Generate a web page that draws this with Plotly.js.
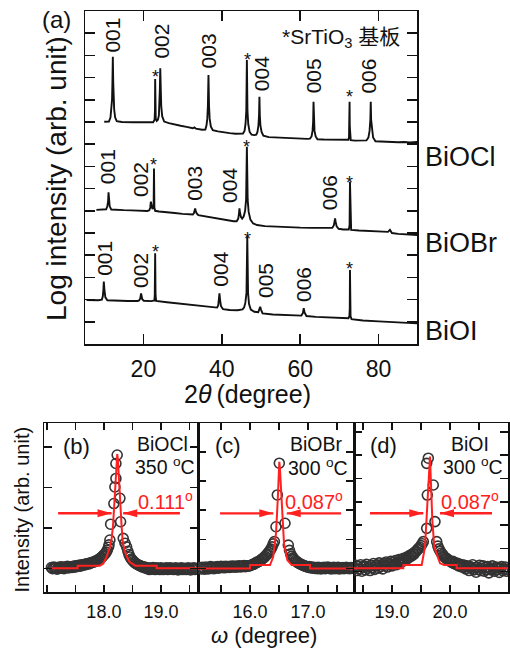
<!DOCTYPE html>
<html>
<head>
<meta charset="utf-8">
<script src="https://cdn.plot.ly/plotly-3.0.1.min.js"></script>
<style>
  html, body { margin: 0; padding: 0; background: #fff; }
  #chart { width: 510px; height: 650px; }
</style>
</head>
<body>
<div id="chart"></div>
<script>
// ---------- (a) XRD patterns: 2θ (deg) and log intensity (stacked offsets) ----------
const thetaOCl = [10.0,10.6,11.2,11.6,11.85,12.0,12.1,12.2,12.3,12.4,12.55,12.8,13.2,14.5,16.0,17.5,19.0,20.5,21.8,22.5,22.85,22.95,23.0,23.05,23.15,23.4,23.7,23.95,24.1,24.2,24.3,24.4,24.55,24.8,25.3,26.5,28.0,29.5,31.0,32.6,33.0,33.4,35.0,35.8,36.1,36.3,36.45,36.6,36.75,36.9,37.2,37.7,39.0,40.5,42.0,43.5,44.8,45.4,45.8,46.05,46.25,46.4,46.55,46.75,47.1,47.6,48.3,48.8,49.1,49.35,49.5,49.6,49.7,49.85,50.15,50.6,52.0,54.0,56.0,58.0,60.0,61.8,62.5,62.9,63.15,63.3,63.4,63.5,63.65,63.95,64.4,66.0,68.0,70.0,71.8,72.3,72.45,72.55,72.6,72.65,72.75,72.9,74.0,75.5,76.9,77.4,77.7,77.9,78.0,78.1,78.3,78.6,79.2,80.5,82.0,83.5,85.0,86.5,88.0,89.9];
const logOCl   = [10.01,10.02,10.02,10.2,10.55,11.0,11.8,12.94,11.8,11.0,10.55,10.2,10.04,10.0,10.01,9.99,9.99,9.98,9.97,9.99,10.1,10.5,11.94,10.5,10.15,10.05,10.1,10.3,10.8,11.5,12.42,11.5,10.7,10.25,10.02,9.95,9.88,9.83,9.78,9.72,9.76,9.7,9.65,9.66,9.85,10.15,10.7,12.12,10.7,10.15,9.8,9.63,9.58,9.53,9.5,9.47,9.46,9.48,9.6,9.9,10.5,12.79,10.5,9.9,9.55,9.43,9.41,9.43,9.55,9.85,10.3,11.14,10.3,9.85,9.55,9.38,9.32,9.3,9.27,9.26,9.25,9.24,9.25,9.35,9.6,10.0,10.91,10.0,9.6,9.35,9.22,9.21,9.2,9.19,9.18,9.2,9.3,9.8,10.91,9.8,9.3,9.18,9.16,9.16,9.17,9.3,9.6,10.1,10.91,10.1,9.6,9.3,9.13,9.12,9.1,9.12,9.09,9.1,9.08,9.1];

const thetaOBr = [8.0,9.0,10.0,10.5,10.8,11.0,11.1,11.2,11.4,11.8,13.0,15.0,17.0,19.0,21.0,21.5,21.75,21.9,22.05,22.3,22.6,22.7,22.8,23.0,24.0,26.0,28.0,30.0,32.0,32.6,32.9,33.1,33.2,33.35,33.6,34.0,35.0,37.0,39.0,41.0,43.0,43.8,44.2,44.4,44.5,44.65,44.9,45.2,45.6,45.95,46.2,46.4,46.6,46.85,47.3,48.0,49.0,51.0,54.0,57.0,60.0,63.0,66.0,68.2,68.6,68.8,68.9,69.05,69.3,69.8,71.0,72.4,72.6,72.7,72.8,73.0,75.0,78.0,81.0,82.4,82.9,83.4,85.0,87.0,89.9];
const logOBr   = [6.04,6.05,6.04,6.07,6.2,6.45,6.83,6.45,6.2,6.06,6.04,6.03,6.02,6.0,5.99,6.02,6.15,6.41,6.2,6.08,6.15,7.9,6.15,6.0,5.97,5.95,5.9,5.86,5.83,5.83,5.9,6.0,6.11,6.0,5.88,5.8,5.77,5.71,5.64,5.58,5.53,5.53,5.65,5.9,6.11,5.9,5.72,5.65,5.75,6.0,6.5,8.89,6.5,5.95,5.6,5.43,5.36,5.31,5.28,5.26,5.24,5.23,5.22,5.23,5.35,5.5,5.66,5.5,5.3,5.19,5.16,5.16,5.35,7.31,5.35,5.14,5.11,5.08,5.05,5.05,5.14,5.0,4.96,4.93,4.91];

const thetaOI = [5.5,7.0,8.5,9.4,9.65,9.8,9.9,10.05,10.3,10.8,13.0,16.0,18.5,18.9,19.2,19.35,19.4,19.5,19.7,20.1,22.0,22.8,22.9,23.0,23.1,23.25,26.0,29.0,32.0,35.0,37.0,38.5,38.8,39.1,39.3,39.4,39.55,39.8,40.3,42.0,44.0,45.3,45.7,46.0,46.3,46.5,46.7,46.95,47.4,48.3,49.3,49.6,49.8,50.0,50.4,53.0,56.0,59.0,60.3,60.7,60.9,61.1,61.6,64.0,67.0,70.0,72.3,72.55,72.65,72.7,72.75,72.85,73.1,76.0,80.0,84.0,87.0,89.9];
const logOI   = [1.98,1.97,1.97,2.0,2.15,2.45,2.81,2.45,2.1,1.97,1.95,1.94,1.94,1.96,2.05,2.2,2.28,2.2,2.02,1.95,1.93,1.96,2.2,4.09,2.2,1.94,1.88,1.82,1.76,1.7,1.65,1.62,1.64,1.75,2.0,2.28,2.0,1.7,1.57,1.53,1.52,1.56,1.65,1.85,2.3,4.85,2.3,1.8,1.55,1.45,1.43,1.55,1.68,1.55,1.38,1.33,1.3,1.28,1.28,1.4,1.61,1.42,1.26,1.22,1.2,1.17,1.16,1.25,1.6,3.33,1.6,1.25,1.12,1.06,1.02,0.98,0.95,0.93];

const sampleNames = ['BiOCl', 'BiOBr', 'BiOI'];
const substrateNote = '*SrTiO<sub>3</sub> 基板';
const tickA = [20, 40, 60, 80];

// ---------- (b)-(d) rocking curves: [ω (deg), intensity] ----------
const rockOCl = [
  [17.08,0.02],[17.10,-0.01],[17.12,0.03],[17.14,0.00],[17.16,0.02],[17.18,-0.02],[17.20,0.01],[17.22,0.03],[17.24,0.00],[17.26,0.04],
  [17.28,0.01],[17.30,-0.01],[17.32,0.03],[17.34,0.02],[17.36,0.05],[17.38,0.01],[17.40,0.03],[17.42,0.04],[17.44,0.02],[17.46,0.05],
  [17.48,0.03],[17.50,0.06],[17.52,0.04],[17.54,0.07],[17.56,0.05],[17.58,0.08],[17.60,0.06],[17.62,0.09],[17.64,0.08],[17.66,0.10],
  [17.68,0.09],[17.70,0.11],[17.72,0.12],[17.74,0.11],[17.76,0.13],[17.78,0.14],[17.80,0.15],[17.82,0.15],[17.84,0.17],[17.86,0.18],
  [17.88,0.20],[17.90,0.21],[17.92,0.23],[17.94,0.25],[17.96,0.27],[17.98,0.30],[18.00,0.33],[18.02,0.36],[18.04,0.40],[18.06,0.45],
  [18.08,0.52],[18.09,0.58],[18.105,0.70],[18.118,1.09],[18.175,1.60],[18.193,2.01],[18.211,2.22],[18.211,2.59],[18.233,2.80],
  [18.281,1.73],[18.293,1.15],[18.339,0.74],[18.37,0.62],[18.398,0.53],[18.42,0.42],[18.44,0.34],[18.46,0.28],[18.48,0.23],[18.50,0.20],
  [18.52,0.17],[18.54,0.14],[18.56,0.12],[18.58,0.10],[18.60,0.09],[18.62,0.07],[18.64,0.06],[18.66,0.05],[18.68,0.03],[18.70,0.04],
  [18.72,0.01],[18.74,0.02],[18.76,-0.01],[18.78,0.01],[18.80,-0.03],[18.82,0.00],[18.84,-0.02],[18.86,0.02],[18.88,-0.01],[18.90,-0.03],
  [18.92,0.01],[18.94,-0.02],[18.96,0.00],[18.98,-0.03],[19.00,0.01],[19.02,-0.01],[19.04,-0.03],[19.06,0.00],[19.08,-0.02],[19.10,0.01],
  [19.12,-0.03],[19.14,-0.01],[19.16,0.01],[19.18,-0.02],[19.20,0.00],[19.22,-0.03],[19.24,-0.01],[19.26,0.01],[19.28,-0.02],[19.30,-0.04],
  [19.32,0.00],[19.34,-0.02],[19.36,0.01],[19.38,-0.03],[19.40,-0.01],[19.42,0.00],[19.44,-0.03],[19.46,-0.01],[19.48,0.01],[19.50,-0.02],
  [19.52,-0.04],[19.54,0.00],[19.56,-0.02],[19.58,0.01],[19.60,-0.03],[19.62,-0.01],[19.64,0.00]
];
const fitOCl = [
  [17.08,0.0],[17.54,0.0],[17.54,0.065],[17.93,0.065],[17.99,0.12],[18.05,0.29],[18.10,0.50],[18.135,0.72],[18.16,1.05],[18.175,1.44],
  [18.195,2.0],[18.21,2.35],[18.225,2.70],[18.234,2.82],[18.245,2.70],[18.257,2.35],[18.275,1.8],[18.292,1.44],[18.31,1.05],[18.328,0.70],
  [18.36,0.45],[18.40,0.29],[18.45,0.16],[18.49,0.12],[18.55,0.065],[18.925,0.065],[18.925,0.0],[19.65,0.0]
];

const rockOBr = [
  [15.14,0.03],[15.16,-0.02],[15.18,0.04],[15.20,0.00],[15.22,-0.03],[15.24,0.05],[15.26,0.01],[15.28,-0.02],[15.30,0.03],[15.32,0.06],
  [15.34,0.00],[15.36,0.04],[15.38,-0.01],[15.40,0.05],[15.42,0.02],[15.44,0.06],[15.46,0.01],[15.48,0.04],[15.50,0.07],[15.52,0.03],
  [15.54,0.06],[15.56,0.02],[15.58,0.07],[15.60,0.04],[15.62,0.06],[15.64,0.03],[15.66,0.07],[15.68,0.04],[15.70,0.08],[15.72,0.05],
  [15.74,0.07],[15.76,0.04],[15.78,0.08],[15.80,0.06],[15.82,0.09],[15.84,0.05],[15.86,0.08],[15.88,0.07],[15.90,0.10],[15.92,0.06],
  [15.94,0.09],[15.96,0.08],[15.98,0.08],[16.00,0.10],[16.02,0.11],[16.04,0.13],[16.06,0.14],[16.08,0.17],[16.10,0.19],[16.12,0.21],
  [16.14,0.23],[16.16,0.25],[16.18,0.28],[16.20,0.31],[16.22,0.34],[16.24,0.37],[16.26,0.41],[16.28,0.46],[16.30,0.50],[16.32,0.55],
  [16.34,0.60],[16.36,0.66],[16.38,0.74],[16.40,0.84],[16.42,0.92],[16.448,1.43],[16.471,2.52],[16.505,3.61],[16.603,1.55],[16.66,0.80],
  [16.68,0.62],[16.70,0.50],[16.72,0.42],[16.74,0.36],[16.76,0.31],[16.78,0.27],[16.80,0.24],[16.82,0.21],[16.84,0.18],[16.86,0.16],
  [16.88,0.14],[16.90,0.12],[16.92,0.10],[16.94,0.09],[16.96,0.07],[16.98,0.06],[17.00,0.04],[17.02,0.06],[17.04,0.02],[17.06,0.05],
  [17.08,0.01],[17.10,0.04],[17.12,0.00],[17.14,0.03],[17.16,-0.01],[17.18,0.04],[17.20,0.01],[17.22,-0.02],[17.24,0.03],[17.26,0.00],
  [17.28,0.04],[17.30,-0.01],[17.32,0.02],[17.34,0.05],[17.36,0.00],[17.38,0.03],[17.40,-0.02],[17.42,0.02],[17.44,0.04],[17.46,-0.01],
  [17.48,0.03],[17.50,0.00],[17.52,0.04],[17.54,-0.02],[17.56,0.02],[17.58,0.00],[17.60,0.03],[17.62,-0.01],[17.64,0.02],[17.66,0.04],
  [17.68,0.00],[17.70,0.02],[17.72,-0.01],[17.74,0.03],[17.76,0.01],[17.78,0.02]
];
const fitOBr = [
  [15.10,0.0],[16.00,0.0],[16.00,0.113],[16.345,0.113],[16.40,0.40],[16.448,1.2],[16.478,2.35],[16.50,3.49],[16.505,3.66],[16.515,3.45],
  [16.529,2.92],[16.552,1.77],[16.586,0.86],[16.643,0.29],[16.719,0.113],[17.034,0.113],[17.034,0.0],[17.79,0.0]
];

const rockOI = [
  [18.36,0.15],[18.38,0.28],[18.40,0.05],[18.42,0.22],[18.44,0.12],[18.46,0.30],[18.48,0.02],[18.50,0.18],[18.52,0.25],[18.54,0.08],
  [18.56,0.32],[18.58,0.15],[18.60,0.22],[18.62,0.05],[18.64,0.28],[18.66,0.18],[18.68,0.35],[18.70,0.10],[18.72,0.25],[18.74,0.30],
  [18.76,0.15],[18.78,0.38],[18.80,0.22],[18.82,0.30],[18.84,0.12],[18.86,0.35],[18.88,0.28],[18.90,0.42],[18.92,0.20],[18.94,0.36],
  [18.96,0.30],[18.98,0.45],[19.00,0.25],[19.02,0.40],[19.04,0.33],[19.06,0.48],[19.08,0.30],[19.10,0.42],[19.12,0.52],[19.14,0.38],
  [19.16,0.50],[19.18,0.44],[19.20,0.58],[19.22,0.48],[19.24,0.60],[19.26,0.55],[19.28,0.66],[19.30,0.62],[19.32,0.72],[19.34,0.68],
  [19.36,0.78],[19.38,0.75],[19.40,0.85],[19.42,0.88],[19.44,0.95],[19.46,1.00],[19.48,1.05],[19.50,1.12],[19.52,1.20],[19.54,1.29],
  [19.598,1.86],[19.609,3.29],[19.598,4.65],[19.626,4.87],[19.712,3.72],[19.741,2.15],[19.771,1.29],
  [19.79,1.10],[19.81,0.98],[19.83,0.88],[19.85,0.80],[19.87,0.74],[19.89,0.68],[19.91,0.62],[19.93,0.58],[19.95,0.55],[19.97,0.50],
  [19.99,0.47],[20.01,0.44],[20.03,0.40],[20.05,0.45],[20.07,0.35],[20.09,0.38],[20.11,0.30],[20.13,0.36],[20.15,0.25],[20.17,0.32],
  [20.19,0.22],[20.21,0.30],[20.23,0.18],[20.25,0.28],[20.27,0.12],[20.29,0.25],[20.31,0.20],[20.33,0.05],[20.35,0.22],[20.37,0.15],
  [20.39,0.30],[20.41,0.08],[20.43,0.18],[20.45,-0.02],[20.47,0.20],[20.49,0.10],[20.51,0.28],[20.53,0.05],[20.55,0.15],[20.57,0.25],
  [20.59,0.02],[20.61,0.18],[20.63,0.10],[20.65,0.22],[20.67,-0.05],[20.69,0.15],[20.71,0.08],[20.73,0.25],[20.75,0.12],[20.77,0.02],
  [20.79,0.20],[20.81,0.10],[20.83,0.18],[20.85,-0.03],[20.87,0.15],[20.89,0.22],[20.91,0.05],[20.93,0.12],[20.95,0.20],[20.97,0.02],
  [20.99,0.10]
];
const fitOI = [
  [18.34,0.146],[19.195,0.146],[19.195,0.29],[19.512,0.29],[19.569,1.07],[19.609,2.65],[19.638,4.22],[19.655,4.94],[19.672,3.79],
  [19.695,2.22],[19.729,1.07],[19.828,0.36],[19.90,0.29],[20.116,0.29],[20.116,0.146],[21.0,0.146]
];

const fwhmText = ['0.111<sup>o</sup>', '0.087<sup>o</sup>', '0.087<sup>o</sup>'];
const growthTemp = ['350 <sup>o</sup>C', '300 <sup>o</sup>C', '300 <sup>o</sup>C'];
const panelTags = ['(a)', '(b)', '(c)', '(d)'];
const tickValsB = [18.0, 19.0];
const tickTextB = ['18.0', '19.0'];
const tickValsC = [16.0, 17.0];
const tickTextC = ['16.0', '17.0'];
const tickValsD = [19.0, 20.0];
const tickTextD = ['19.0', '20.0'];

// ---------- drawing ----------
const W = 510, H = 650;
const FONT = '"Liberation Sans", Arial, "Noto Sans CJK SC", sans-serif';
const INK = '#111111';
const RED = '#ff2020';
const px2x = p => p / W;
const py2y = p => 1 - p / H;
const col = (pts, i) => pts.map(p => p[i]);

const xrdLine = (x, y) => ({ x, y, xaxis: 'x', yaxis: 'y', type: 'scatter', mode: 'lines',
  line: { color: INK, width: 1.9 }, hoverinfo: 'skip' });
const rockPts = (pts, n) => ({ x: col(pts, 0), y: col(pts, 1), xaxis: 'x' + n, yaxis: 'y' + n, type: 'scatter', mode: 'markers',
  marker: { symbol: 'circle-open', size: 10, color: '#333333', line: { width: 1.6, color: '#333333' } }, hoverinfo: 'skip' });
const rockFit = (pts, n) => ({ x: col(pts, 0), y: col(pts, 1), xaxis: 'x' + n, yaxis: 'y' + n, type: 'scatter', mode: 'lines',
  line: { color: RED, width: 2 }, hoverinfo: 'skip' });

const data = [
  xrdLine(thetaOCl, logOCl), xrdLine(thetaOBr, logOBr), xrdLine(thetaOI, logOI),
  rockPts(rockOCl, 2), rockFit(fitOCl, 2),
  rockPts(rockOBr, 3), rockFit(fitOBr, 3),
  rockPts(rockOI, 4), rockFit(fitOI, 4)
];

const frame = {
  showline: true, linecolor: INK, linewidth: 1.5, mirror: 'ticks', ticks: 'inside',
  tickcolor: INK, tickwidth: 1.5, showgrid: false, zeroline: false, fixedrange: true
};
// half-degree minor ticks on the rocking-curve ω axes
const halfStep = { ticks: 'inside', tickmode: 'linear', tick0: 0, dtick: 0.5, ticklen: 7, tickwidth: 1.5, tickcolor: INK, showgrid: false };
const bottomDom = [py2y(592), py2y(423)];

const layout = {
  width: W, height: H, margin: { l: 0, r: 0, t: 0, b: 0 },
  paper_bgcolor: '#fff', plot_bgcolor: 'rgba(0,0,0,0)', showlegend: false,
  font: { family: FONT, color: INK },
  xaxis: Object.assign({}, frame, { domain: [px2x(85), px2x(417)], range: [5.1, 89.8], anchor: 'y',
    tickmode: 'array', tickvals: tickA, ticklen: 10, tickfont: { size: 23 }, ticklabelstandoff: 4 }),
  yaxis: Object.assign({}, frame, { domain: [py2y(344), py2y(11)], range: [0, 15], anchor: 'x',
    tickmode: 'linear', tick0: 0, dtick: 1, ticklen: 10, showticklabels: false }),
  xaxis2: Object.assign({}, frame, { domain: [px2x(44), px2x(198)], range: [16.95, 19.65], anchor: 'y2',
    tickmode: 'array', tickvals: tickValsB, ticktext: tickTextB, ticklen: 7, tickfont: { size: 18 }, ticklabelstandoff: 3, minor: halfStep }),
  yaxis2: Object.assign({}, frame, { domain: bottomDom, range: [-0.585, 3.59], anchor: 'x2',
    tickmode: 'array', tickvals: [0, 1, 2, 3], ticklen: 8, showticklabels: false }),
  xaxis3: Object.assign({}, frame, { domain: [px2x(198), px2x(354)], range: [15.103, 17.793], anchor: 'y3',
    tickmode: 'array', tickvals: tickValsC, ticktext: tickTextC, ticklen: 7, tickfont: { size: 18 }, ticklabelstandoff: 3, minor: halfStep }),
  yaxis3: Object.assign({}, frame, { domain: bottomDom, range: [-0.81, 4.99], anchor: 'x3',
    tickmode: 'array', tickvals: [0, 1, 2, 3, 4], ticklen: 8, showticklabels: false }),
  xaxis4: Object.assign({}, frame, { domain: [px2x(354), px2x(508)], range: [18.345, 21.0], anchor: 'y4',
    tickmode: 'array', tickvals: tickValsD, ticktext: tickTextD, ticklen: 7, tickfont: { size: 18 }, ticklabelstandoff: 3, minor: halfStep }),
  yaxis4: Object.assign({}, frame, { domain: bottomDom, range: [-0.87, 6.38], anchor: 'x4',
    tickmode: 'array', tickvals: [0, 1, 2, 3, 4, 5, 6], ticklen: 8, showticklabels: false }),
  annotations: [],
  shapes: []
};

const A = layout.annotations;
// free text in paper space, placed by pixel position
const note = (text, px, py, size, extra) => A.push(Object.assign({
  text, x: px2x(px), y: py2y(py), xref: 'paper', yref: 'paper', showarrow: false,
  xanchor: 'center', yanchor: 'middle', font: { size, color: INK, family: FONT }
}, extra || {}));
// text pinned to the XRD axes (2θ, log I)
const onA = (text, x, y, size, angle) => A.push({
  text, x, y, xref: 'x', yref: 'y', showarrow: false, xanchor: 'center', yanchor: 'middle',
  textangle: angle || 0, font: { size, color: INK, family: FONT }
});

// panel (a) titles and labels
note(panelTags[0], 56.5, 19, 24);
note('Log intensity (arb. unit)', 57, 179, 28, { textangle: -90 });
note('2<i>θ</i>\u2009(degree)', 247, 394, 25);
note(substrateNote, 402, 38, 21, { xanchor: 'right' });
note(sampleNames[0], 423, 157, 27, { xanchor: 'left' });
note(sampleNames[1], 423, 243, 27, { xanchor: 'left' });
note(sampleNames[2], 423, 331, 27, { xanchor: 'left' });

// reflection indices
[['001', 12.2, 13.93], ['002', 24.7, 13.66], ['003', 36.6, 13.2], ['004', 50.2, 12.19], ['005', 63.4, 12.08], ['006', 77.5, 12.08],
 ['001', 10.9, 8.0], ['002', 19.2, 7.4], ['003', 33.2, 7.22], ['004', 41.9, 7.13], ['006', 67.5, 6.82],
 ['001', 10.2, 3.88], ['002', 19.3, 3.32], ['004', 39.6, 3.36], ['005', 51.2, 2.87], ['006', 60.9, 2.69]
].forEach(l => onA(l[0], l[1], l[2], 21, -90));
// substrate reflections
[[23.0, 12.03], [46.6, 12.79], [72.6, 11.11],
 [22.7, 8.05], [46.4, 8.88], [72.7, 7.27],
 [23.0, 4.14], [46.5, 4.74], [72.7, 3.39]
].forEach(s => onA('*', s[0], s[1], 18, 0));

// panels (b)-(d)
note('Intensity (arb. unit)', 21, 509.5, 20, { textangle: -90 });
note('<i>ω</i> (degree)', 263.5, 635, 22);
note(panelTags[1], 76, 446, 22);
note(panelTags[2], 227.5, 445, 22);
note(panelTags[3], 383.5, 445, 22);
note(sampleNames[0], 162.5, 444, 19.5);
note(sampleNames[1], 316, 444, 19.5);
note(sampleNames[2], 470, 444, 19.5);
note(growthTemp[0], 165, 466, 19.5);
note(growthTemp[1], 317.5, 466.5, 19.5);
note(growthTemp[2], 473, 466, 19.5);
note(fwhmText[0], 165, 500, 20, { font: { size: 20, color: RED, family: FONT } });
note(fwhmText[1], 314, 500, 20, { font: { size: 20, color: RED, family: FONT } });
note(fwhmText[2], 470, 500, 20, { font: { size: 20, color: RED, family: FONT } });

// FWHM arrows: shaft from tail to tip, filled head at the tip
const S = layout.shapes;
const arrow = (n, y, tail, tip) => {
  const dir = tip > tail ? 1 : -1;
  S.push({ type: 'line', xref: 'x' + n, yref: 'y' + n, x0: tail, x1: tip, y0: y, y1: y,
    line: { color: RED, width: 2.4 } });
  S.push({ type: 'path', xref: 'x' + n, yref: 'y' + n, xsizemode: 'pixel', ysizemode: 'pixel',
    xanchor: tip, yanchor: y, path: `M0,0 L${-14 * dir},4 L${-14 * dir},-4 Z`,
    fillcolor: RED, line: { width: 0 } });
};
arrow(2, 1.36, 17.198, 18.135); arrow(2, 1.36, 19.333, 18.339);
arrow(3, 1.89, 15.483, 16.402); arrow(3, 1.89, 17.569, 16.633);
arrow(4, 2.51, 18.621, 19.540); arrow(4, 2.51, 20.724, 19.828);

Plotly.newPlot('chart', data, layout, { staticPlot: true, displayModeBar: false });
</script>
</body>
</html>
